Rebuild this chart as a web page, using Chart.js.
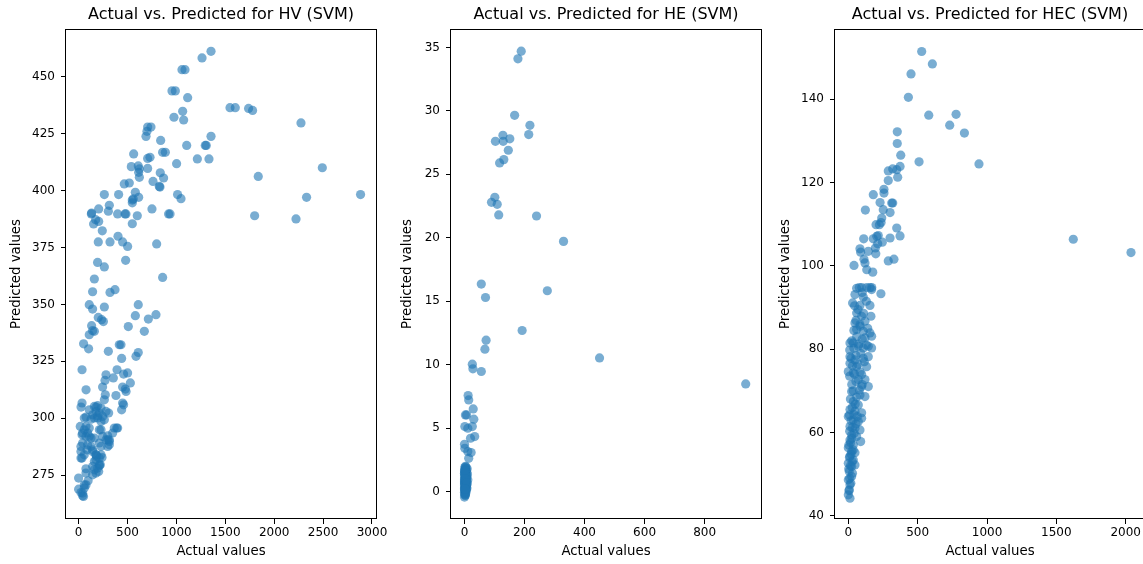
<!DOCTYPE html>
<html>
<head>
<meta charset="utf-8">
<script src="https://cdn.jsdelivr.net/npm/chart.js@4.4.1/dist/chart.umd.min.js"></script>
<style>
  html, body { margin:0; padding:0; background:#fff; width:1143px; height:564px; overflow:hidden; }
  .box { position:absolute; top:0; height:564px; }
  canvas { display:block; }
</style>
</head>
<body>
<div class="box" style="left:0px;width:400px"><canvas id="c1" width="400" height="564"></canvas></div>
<div class="box" style="left:380px;width:400px"><canvas id="c2" width="400" height="564"></canvas></div>
<div class="box" style="left:764px;width:400px"><canvas id="c3" width="400" height="564"></canvas></div>
<script>
// ---------- DATA (actual, predicted) ----------
const hvPoints = [
[1354,461.3],[1262,458.4],[1057,453.2],[1088,453.2],[955,443.9],[989,443.9],[1115,440.9],[1548,436.5],[1602,436.5],
[1738,436.2],[1779,435.3],[1064,434.9],[975,432.3],[1074,431.1],[2274,429.8],[706,428.0],[740,428.0],[699,426.1],
[689,423.9],[1354,423.9],[839,422.1],[1105,419.9],[1295,419.9],[1305,419.9],[859,416.9],[887,416.9],[563,416.2],
[706,414.2],[730,414.7],[1214,414.0],[1333,414.0],[1002,411.9],[539,410.6],[610,410.9],[621,409.6],[706,409.8],
[835,407.9],[614,408.1],[1837,406.3],[869,405.6],[621,405.9],[761,404.1],[467,403.0],[518,403.4],[2492,410.1],
[832,401.6],[825,401.9],[263,398.3],[409,398.3],[580,399.3],[549,395.9],[559,396.4],[614,397.1],[1012,398.3],
[1047,396.5],[2883,398.3],[2331,397.1],[549,394.7],[314,393.6],[205,392.0],[304,391.0],[133,390.2],[130,389.8],
[399,389.8],[474,389.8],[484,389.8],[600,389.0],[920,389.8],[935,389.8],[1800,389.0],[2223,387.6],[174,387.3],
[205,386.5],[153,385.4],[750,392.0],[549,385.5],[242,382.4],[403,380.0],[201,377.5],[321,377.5],[450,377.5],
[501,375.5],[798,376.6],[194,368.5],[263,366.5],[481,369.4],[161,361.2],[859,361.9],
[143,355.6],[321,355.3],[372,356.5],[109,349.9],[143,348.0],[263,348.9],[610,349.9],[201,344.3],[235,343.3],
[253,342.5],[580,345.1],[713,343.6],[791,345.5],[133,340.7],[143,338.5],[109,336.7],[161,338.2],[508,340.3],
[672,338.2],[51,332.7],[102,330.5],[304,329.4],[416,332.3],[433,332.3],[610,328.9],[587,327.2],[440,326.3],
[35,321.3],[393,321.3],[501,319.9],[460,319.4],[280,319.1],[355,317.7],[270,316.6],[529,315.5],[245,313.7],
[76,312.5],[450,313.7],[478,312.8],[485,311.8],[273,310.3],[263,308.1],[382,310.0],[450,306.7],[440,303.7],
[460,305.9],[35,306.7],[25,304.9],
[161,305.2],[195,305.5],[229,304.5],[178,303.0],[212,302.3],[245,300.8],[143,301.5],[195,300.1],[229,298.6],
[280,303.0],[307,302.3],[263,299.3],[76,300.5],[127,299.6],[109,303.7],[178,304.9],[161,300.1],[195,301.1],
[17,296.4],[58,294.9],[109,295.7],[92,293.5],[35,292.7],[75,292.0],[127,291.3],[41,289.1],[86,286.1],[127,287.6],
[24,285.4],[58,283.9],[24,282.5],[143,285.4],[178,283.9],[212,289.1],[245,292.0],[297,290.5],[314,289.8],
[297,287.6],[348,293.5],[389,295.7],[229,294.9],[178,281.7],[212,282.5],[239,282.7],[75,277.8],[143,278.8],
[195,278.1],[212,279.1],[178,275.9],[143,275.1],[75,275.9],[0,273.7],[97,272.5],[75,270.7],[58,269.3],[0,268.8],
[24,267.3],[41,265.9],[222,279.5],[205,276.6],[161,277.3],[58,270.7],[41,267.1],[50,265.6],
[212,279.5],[184,283.2],[229,283.9],[143,286.1],[92,288.3],[161,291.3],[212,294.9],[280,290.5],[314,288.3],
[297,292.3],[365,295.7],[399,295.7],[58,300.1],[75,296.4],[41,293.5],[109,292.0],[24,287.6],[35,282.5],
[178,283.9],[229,287.6],[314,290.5],[161,281.0]
];
const hePoints = [
[189,34.7],[178,34.1],[167,29.65],[218,28.86],[214,28.13],[128,28.08],[103,27.6],[129,27.6],[151,27.8],[146,26.9],
[131,26.16],[117,25.9],[101,23.19],[90,22.8],[109,22.64],[114,21.8],[240,21.72],[330,19.72],[56,16.36],[70,15.3],
[276,15.83],[192,12.7],[72,11.94],[68,11.23],[26,10.05],[28,9.68],[56,9.47],[12,7.57],[14,7.23],[29,6.52],[3,6.05],
[7,6.05],[31,5.71],[1,5.13],[11,5.0],[26,5.13],[34,4.34],[20,4.21],[0,3.74],[1,3.42],[11,3.16],[22,3.08],[14,2.63],
[450,10.54],[937,8.49],
[0,-0.42],[2,-0.3],[1,-0.2],[4,-0.15],[0,-0.05],[3,0.0],[6,0.05],[1,0.1],[2,0.15],[5,0.2],[0,0.22],[8,0.25],[3,0.3],
[1,0.35],[4,0.4],[2,0.45],[6,0.5],[0,0.52],[3,0.58],[9,0.6],[1,0.65],[5,0.7],[2,0.75],[7,0.8],[0,0.85],[4,0.9],
[11,0.95],[2,1.0],[6,1.05],[1,1.1],[3,1.15],[8,1.2],[0,1.25],[5,1.3],[2,1.35],[10,1.4],[4,1.45],[1,1.5],[7,1.55],
[3,1.6],[0,1.65],[6,1.7],[2,1.75],[9,1.8],[4,1.85],[1,1.9],[5,1.95],[3,2.0],[0,0.3],[2,0.6],[4,1.0],[1,0.8],[3,1.3],
[0,1.0],[5,0.45],[2,1.6],[7,0.35],[1,-0.1],[3,0.7],[0,0.68],[2,0.95],[4,0.15],[6,1.2],[1,1.4],[3,-0.25],[5,0.95],
[0,1.45],[8,0.7],[2,0.2],[1,1.7]
];
const hecPoints = [
[529,151.5],[606,148.5],[452,146.1],[433,140.5],[580,136.2],[777,136.4],[731,133.8],[837,131.9],[353,132.2],
[353,129.4],[378,126.6],[510,125.0],[942,124.5],[373,123.9],[320,123.3],[288,122.8],[349,123.1],[356,121.3],
[288,120.5],[257,118.4],[257,117.5],[180,117.1],[229,115.2],[320,115.1],[313,115.1],[123,113.4],[252,113.5],
[301,112.8],[241,111.5],[236,110.4],[224,109.9],[200,109.9],[349,109.1],[216,107.3],[205,107.1],[373,107.2],
[111,106.5],[180,106.5],[301,106.7],[245,105.7],[212,105.3],[195,104.3],[198,102.9],[84,104.1],[89,103.3],
[144,103.5],[1622,106.4],[2038,103.2],[113,101.6],[288,101.2],[329,101.6],[41,100.1],[120,100.7],[133,99.1],
[176,98.5],[79,94.8],[97,94.8],[156,94.8],[169,94.8],[133,94.8],
[168,94.3],[235,93.3],[48,93.1],[108,92.5],[31,91.1],[84,90.5],[156,90.5],[60,88.7],[96,87.9],[163,87.9],[48,86.3],
[84,85.9],[120,86.7],[60,84.7],[108,84.3],[156,83.9],[120,82.7],[168,83.1],[12,81.5],[36,81.5],[72,80.7],[144,80.7],
[108,80.3],[168,80.3],[12,78.2],[48,77.4],[108,77.8],[144,78.2],[12,76.6],[60,75.8],[132,75.8],[0,74.6],[36,74.3],
[96,73.9],[120,72.7],[72,72.7],[144,71.0],[96,71.0],[24,69.8],[84,69.0],[120,68.6],[36,67.4],[72,66.6],[12,65.5],
[48,65.1],[96,64.7],[0,63.8],[36,63.0],[72,62.6],[96,63.4],[12,61.4],[48,61.0],[84,60.6],[24,59.4],[60,59.0],
[89,57.8],[12,58.2],[36,57.0],[0,56.3],[24,55.5],[48,55.1],[12,54.3],[36,53.4],[0,52.6],[24,51.8],[48,52.2],
[7,50.6],[24,49.4],[0,48.6],[12,47.4],[7,46.2],[0,45.0],[12,44.2],
[5,46],[18,47.8],[10,49],[30,50.2],[3,51.2],[15,52],[28,53],[8,54],[20,54.8],[35,55.8],[4,57],[16,57.5],[25,58.6],
[42,59.8],[10,60.3],[30,61.2],[55,62],[20,62.8],[8,64.2],[40,64.3],[65,63.8],[28,66],[50,66.8],[15,68],[60,68.5],
[35,70],[80,70.2],[25,71.5],[100,71.5],[55,72.2],[10,73.5],[45,74],[85,74.5],[30,76],[70,76.4],[115,77],[20,77.8],
[55,78.5],[90,79],[10,79.8],[40,80.2],[75,81.2],[130,81],[25,82],[100,82.4],[60,83],[40,84.5],[85,85.5],[140,85],
[55,86.9],[110,88.6],[70,89.5],[45,90.4],[130,91.5],[100,93.6],[60,94.6]
];
const hvXTicks = [0,500,1000,1500,2000,2500,3000];
const hvYTicks = [275,300,325,350,375,400,425,450];
const heXTicks = [0,200,400,600,800];
const heYTicks = [0,5,10,15,20,25,30,35];
const hecXTicks = [0,500,1000,1500,2000];
const hecYTicks = [40,60,80,100,120,140];
const titles = ['Actual vs. Predicted for HV (SVM)','Actual vs. Predicted for HE (SVM)','Actual vs. Predicted for HEC (SVM)'];
const xLabel = 'Actual values';
const yLabel = 'Predicted values';

// ---------- RENDERING ----------
Chart.defaults.font.family = '"DejaVu Sans", sans-serif';
Chart.defaults.color = '#000';

const framePlugin = {
  id: 'frame',
  afterDatasetsDraw(chart) {
    const {ctx, chartArea: a} = chart;
    ctx.save();
    ctx.strokeStyle = '#000';
    ctx.lineWidth = 1;
    ctx.strokeRect(Math.round(a.left) - 0.5, Math.round(a.top) + 0.5, Math.round(a.right - a.left) + 1, Math.round(a.bottom - a.top) - 1);
    ctx.restore();
  }
};

function makeChart(id, points, xr, yr, xt, yt, title, yAxisW, padRight, yTitlePad) {
  const axisCommon = (ticksArr) => ({
    type: 'linear',
    afterBuildTicks: (s) => { s.ticks = ticksArr.map(v => ({value: v})); },
    grid: { display: true, drawOnChartArea: false, drawTicks: true, tickLength: 5, color: '#000', tickWidth: 1 },
    border: { display: false }
  });
  new Chart(document.getElementById(id), {
    type: 'scatter',
    data: { datasets: [{
      data: points.map(p => ({x: p[0], y: p[1]})),
      backgroundColor: 'rgba(31,119,180,0.6)',
      borderWidth: 0,
      pointRadius: 4.6,
      pointHoverRadius: 4.6
    }]},
    options: {
      responsive: false,
      animation: false,
      events: [],
      layout: { padding: { left: 0, right: padRight, top: 0, bottom: 0 } },
      plugins: {
        legend: { display: false },
        tooltip: { enabled: false },
        title: { display: true, text: title, fullSize: false, color: '#000',
                 font: { size: 16, weight: 'normal' }, padding: { top: 5, bottom: 4.8 } }
      },
      scales: {
        x: Object.assign(axisCommon(xt), {
          min: xr[0], max: xr[1],
          afterFit: (s) => { s.height = 45; s.paddingLeft = 0; s.paddingRight = 0; },
          ticks: { font: { size: 12 }, padding: 2, color: '#000', maxRotation: 0, autoSkip: false,
                   callback: (v) => String(v) },
          title: { display: true, text: xLabel, color: '#000', font: { size: 13.3 }, padding: { top: 0, bottom: 4 } }
        }),
        y: Object.assign(axisCommon(yt), {
          min: yr[0], max: yr[1],
          afterFit: (s) => { s.width = yAxisW; s.paddingTop = 0; s.paddingBottom = 0; },
          ticks: { font: { size: 12 }, padding: 6, color: '#000', autoSkip: false,
                   callback: (v) => String(v) },
          title: { display: true, text: yLabel, color: '#000', font: { size: 13.3 }, padding: { top: yTitlePad, bottom: 0 } }
        })
      }
    },
    plugins: [framePlugin]
  });
}

makeChart('c1', hvPoints, [-129, 3041], [255.7, 471.1], hvXTicks, hvYTicks, titles[0], 66, 24, 8.7);
makeChart('c2', hePoints, [-45, 988], [-2.15, 36.45], heXTicks, heYTicks, titles[1], 71, 19, 19.5);
makeChart('c3', hecPoints, [-96, 2139], [39.2, 156.9], hecXTicks, hecYTicks, titles[2], 71, 19, 13.3);
</script>
</body>
</html>
